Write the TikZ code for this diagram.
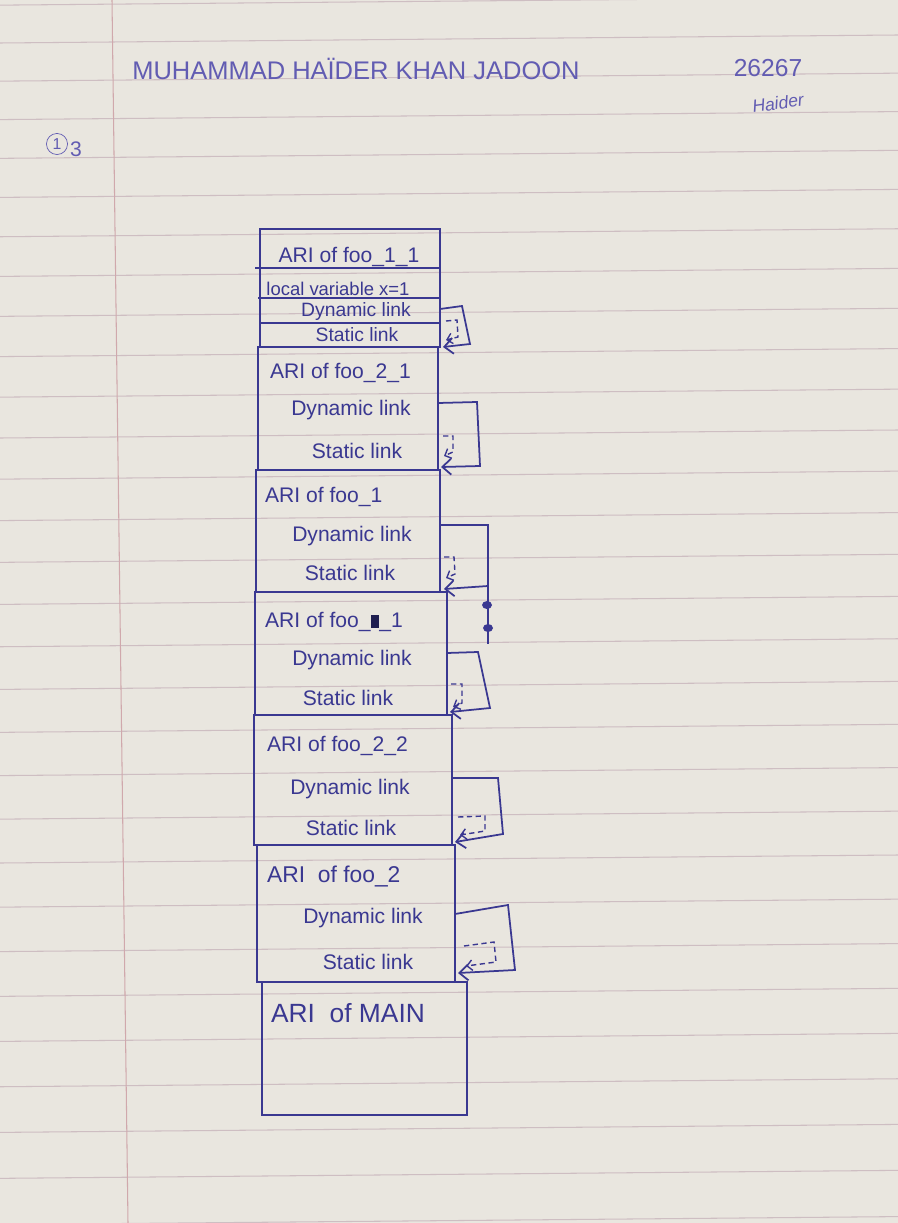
\documentclass[tikz,border=0pt]{standalone}
\usepackage{fontspec}
\setmainfont{Liberation Sans}
\usetikzlibrary{arrows,arrows.meta,fit,positioning}
\definecolor{paper}{RGB}{233,230,223}
\definecolor{ruleline}{RGB}{206,190,194}
\definecolor{marginline}{RGB}{208,168,172}
\definecolor{ink}{RGB}{58,56,145}
\definecolor{inklight}{RGB}{98,92,178}

\begin{document}
\begin{tikzpicture}[x=0.02cm,y=-0.02cm]
\tikzstyle{frame}=[draw=ink,line width=1pt,inner sep=0pt,outer sep=0pt]
\tikzstyle{lbl}=[text=ink,inner sep=1pt,font=\fontsize{12}{14}\selectfont]
\tikzstyle{head}=[lbl,anchor=west]
\tikzstyle{link}=[draw=ink,line width=1pt,->,>={Straight Barb[length=5pt,width=9pt]}]
\tikzstyle{slink}=[draw=ink,line width=0.8pt,densely dashed,->,>={Straight Barb[length=3pt,width=6pt]}]

% paper
\fill[paper] (0,0) rectangle (898,1223);
\useasboundingbox (0,0) rectangle (898,1223);
\foreach \k in {-1,...,28}
  \draw[ruleline,line width=0.6pt] (0,{43+38*\k+0.15*\k*\k}) -- (898,{35+38*\k+0.15*\k*\k});
\draw[marginline,line width=0.6pt] (112,0) -- (128,1223);

% header
\node[text=inklight,font=\fontsize{14.5}{17}\selectfont] (name) at (356,69) {MUHAMMAD HAÏDER KHAN JADOON};
\node[text=inklight,font=\fontsize{14}{17}\selectfont] (roll) at (768,68) {26267};
\node[text=inklight,font=\itshape\fontsize{10}{12}\selectfont,rotate=8] (sign) at (778,103) {Haider};
\node[circle,draw=inklight,inner sep=0pt,minimum size=12pt,text=inklight,font=\fontsize{9}{10}\selectfont] (q) at (57,144) {1};
\node[right=0pt of q,yshift=-3pt,inner sep=1pt,text=inklight,font=\fontsize{12}{14}\selectfont] (qn) {3};

% frames
\node[frame,fit={(260,229) (440,347)}] (f1) {};
\node[frame,fit={(258,347) (438,470)}] (f2) {};
\node[frame,fit={(256,470) (440,592)}] (f3) {};
\node[frame,fit={(255,592) (447,715)}] (f4) {};
\node[frame,fit={(254,715) (452,845)}] (f5) {};
\node[frame,fit={(257,845) (455,982)}] (f6) {};
\node[frame,fit={(262,982) (467,1115)}] (f7) {};

% rows of the top frame
\draw[ink,line width=1pt] (255,268) -- (440,268);
\draw[ink,line width=1pt] (258,298) -- (440,298);
\draw[ink,line width=1pt] (260,323) -- (440,323);

% labels
\node[lbl] (t1) at (349,257) {ARI of foo\_1\_1};
\node[lbl,font=\fontsize{10.5}{12}\selectfont] (v1) at (338,289) {local variable x=1};
\node[lbl,font=\fontsize{11}{12}\selectfont] (d1) at (356,312) {Dynamic link};
\node[lbl,font=\fontsize{11}{12}\selectfont] (s1) at (357,335) {Static link};

\node[head] (t2) at (268,373) {ARI of foo\_2\_1};
\node[lbl] (d2) at (351,410) {Dynamic link};
\node[lbl] (s2) at (357,451) {Static link};

\node[head] (t3) at (263,497) {ARI of foo\_1};
\node[lbl] (d3) at (352,536) {Dynamic link};
\node[lbl] (s3) at (350,573) {Static link};

\node[head] (t4) at (263,622) {ARI of foo\_{\color{ink!55!black}\rule[0pt]{5pt}{7pt}}\_1};
\node[lbl] (d4) at (352,660) {Dynamic link};
\node[lbl] (s4) at (348,698) {Static link};

\node[head] (t5) at (265,746) {ARI of foo\_2\_2};
\node[lbl] (d5) at (350,789) {Dynamic link};
\node[lbl] (s5) at (351,828) {Static link};

\node[head,font=\fontsize{13}{15}\selectfont] (t6) at (265,876) {ARI \ of foo\_2};
\node[lbl] (d6) at (363,918) {Dynamic link};
\node[lbl] (s6) at (368,962) {Static link};

\node[head,font=\fontsize{15}{17}\selectfont] (t7) at (269,1013) {ARI \ of MAIN};

% link ends
\coordinate (a1) at (440,309);
\coordinate (b1) at (443,347);
\coordinate (a2) at (438,403);
\coordinate (b2) at (441,467);
\coordinate (a3) at (440,525);
\coordinate (b3) at (444,589);
\coordinate (a4) at (447,653);
\coordinate (b4) at (450,712);
\coordinate (a5) at (452,778);
\coordinate (b5) at (455,842);
\coordinate (a6) at (455,914);
\coordinate (b6) at (458,973);

% dynamic links
\draw[link] (a1) -- (462,306) -- (470,344) -- (b1);
\draw[link] (a2) -- (477,402) -- (480,466) -- (b2);
\draw[link] (a3) -- (488,525) -- (488,586) -- (b3);
\draw[link] (a4) -- (478,652) -- (490,708) -- (b4);
\draw[link] (a5) -- (498,778) -- (503,834) -- (b5);
\draw[link] (a6) -- (508,905) -- (515,970) -- (b6);

% static links
\draw[slink] (446,321) -- (457,320) -- (458,337) -- (446,340);
\draw[slink] (443,436) -- (453,436) -- (453,452) -- (444,456);
\draw[slink] (444,557) -- (454,557) -- (455,574) -- (446,578);
\draw[slink] (451,684) -- (462,684) -- (462,703) -- (453,707);
\draw[slink] (458,817) -- (485,816) -- (485,831) -- (460,835);
\draw[slink] (464,946) -- (494,942) -- (496,962) -- (466,966);

% ink blot under the third link
\draw[ink,line width=1.2pt] (488,586) -- (488,644);
\fill[ink] (487,605) ellipse (5 and 4);
\fill[ink] (488,628) ellipse (5 and 4);

\end{tikzpicture}
\end{document}
